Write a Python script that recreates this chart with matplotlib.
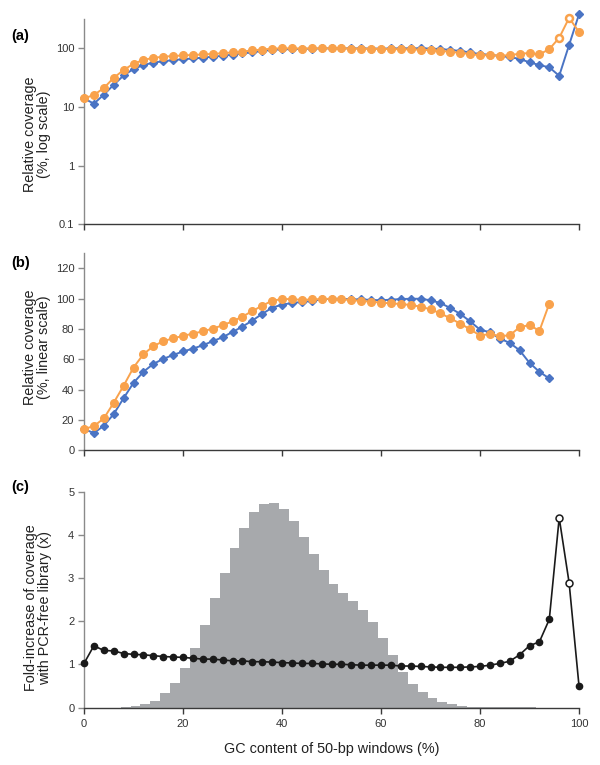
import matplotlib
matplotlib.use("Agg")
import matplotlib.pyplot as plt

# GC content of the 50-bp windows (%), one point every 2%
gc = list(range(0, 101, 2))

# relative coverage (%), standard PCR library (blue diamonds)
pcr = [14.0, 11.4, 16.2, 23.9, 34.4, 44.5, 51.8, 57.0, 60.3, 62.9, 65.2, 67.1, 69.3,
       72.0, 74.6, 78.1, 81.6, 85.6, 90.0, 94.1, 96.1, 97.2, 97.9, 98.5, 99.6, 100.0,
       100.0, 99.6, 99.6, 99.2, 99.0, 99.4, 99.8, 100.0, 100.0, 99.0, 97.2, 93.9, 90.0,
       85.1, 79.6, 77.9, 73.7, 70.9, 66.0, 57.7, 51.8, 47.4, 34.0, 114.0, 380.0]

# relative coverage (%), PCR-free library (orange circles)
pcr_free = [14.0, 16.0, 21.0, 31.4, 42.6, 54.6, 63.4, 68.7, 72.0, 73.9, 75.5, 77.0, 78.5,
            80.3, 82.5, 85.1, 88.2, 91.9, 95.4, 98.7, 99.8, 99.8, 99.2, 99.6, 99.8, 100.0,
            99.6, 99.2, 98.5, 98.1, 97.4, 97.0, 96.5, 95.9, 94.8, 93.0, 90.4, 87.1, 83.6,
            79.9, 75.7, 76.8, 75.3, 75.9, 81.2, 82.7, 78.8, 96.8, 151.0, 330.0, 190.0]

# points drawn hollow (few windows)
open_gc = [96, 98]

# fold increase of coverage with PCR-free library
fold = [1.02, 1.43, 1.32, 1.31, 1.25, 1.23, 1.22, 1.20, 1.18, 1.17, 1.16, 1.14, 1.12,
        1.12, 1.10, 1.08, 1.08, 1.06, 1.06, 1.05, 1.04, 1.03, 1.02, 1.02, 1.01, 1.00,
        1.00, 0.99, 0.98, 0.98, 0.98, 0.98, 0.96, 0.96, 0.95, 0.94, 0.93, 0.93, 0.93,
        0.94, 0.95, 0.98, 1.02, 1.07, 1.22, 1.43, 1.52, 2.04, 4.39, 2.89, 0.50]

# distribution of GC content of windows (grey histogram)
hist_gc = list(range(8, 91, 2))
hist_h = [0.005, 0.04, 0.08, 0.16, 0.33, 0.56, 0.91, 1.37, 1.92, 2.53, 3.12, 3.69, 4.16,
          4.52, 4.71, 4.74, 4.59, 4.31, 3.95, 3.55, 3.19, 2.87, 2.64, 2.46, 2.25, 1.98,
          1.62, 1.22, 0.83, 0.55, 0.35, 0.22, 0.13, 0.07, 0.03, 0.02, 0.01, 0.008,
          0.005, 0.004, 0.003, 0.002]

BLUE = "#4a74c4"
ORANGE = "#f9a24c"
GREY = "#a7a9ac"
W, H = 600, 765

plt.rcParams["font.family"] = ["Liberation Sans", "DejaVu Sans"]


def box(top, bottom, left=84, right=579):
    return [left / W, 1 - bottom / H, (right - left) / W, (bottom - top) / H]


def style(ax, labels):
    for s in ("top", "right"):
        ax.spines[s].set_visible(False)
    ax.spines["left"].set_color("#8a8a8a")
    ax.spines["bottom"].set_color("#3a3a3a")
    ax.spines["left"].set_linewidth(1.0)
    ax.spines["bottom"].set_linewidth(1.0)
    ax.set_xlim(0, 100)
    ax.set_xticks(range(0, 101, 20))
    ax.tick_params(axis="x", length=4, width=1, color="#3a3a3a", labelsize=8,
                   labelcolor="#333333", labelbottom=labels, pad=4)
    ax.tick_params(axis="y", length=4, width=1, color="#8a8a8a", labelsize=8,
                   labelcolor="#333333", pad=3)
    ax.tick_params(which="minor", length=0)


fig = plt.figure(figsize=(W / 100, H / 100), dpi=100)
ax_a = fig.add_axes(box(19, 224.3))
ax_b = fig.add_axes(box(253.3, 450.3))
ax_c = fig.add_axes(box(491.5, 707.5))

# (a) log scale
filled = [i for i, g in enumerate(gc) if g not in open_gc]
hollow = [i for i, g in enumerate(gc) if g in open_gc]
ax_a.plot(gc, pcr, color=BLUE, lw=1.4, marker="D", ms=3.8, mfc=BLUE, mec=BLUE, clip_on=False, zorder=3)
ax_a.plot(gc, pcr_free, color=ORANGE, lw=1.4, marker="o", ms=5.5, mfc=ORANGE, mec=ORANGE,
          markevery=filled, clip_on=False, zorder=4)
ax_a.plot([gc[i] for i in hollow], [pcr_free[i] for i in hollow], ls="none", marker="o", ms=5,
          mfc="white", mec=ORANGE, mew=1.8, clip_on=False, zorder=5)
ax_a.set_yscale("log")
ax_a.set_ylim(0.1, 316)
ax_a.set_yticks([0.1, 1, 10, 100])
ax_a.set_yticklabels(["0.1", "1", "10", "100"])
style(ax_a, False)

# (b) linear scale, up to 94% GC
nb = gc.index(94) + 1
ax_b.plot(gc[:nb], pcr[:nb], color=BLUE, lw=1.4, marker="D", ms=3.8, mfc=BLUE, mec=BLUE, clip_on=False, zorder=3)
ax_b.plot(gc[:nb], pcr_free[:nb], color=ORANGE, lw=1.4, marker="o", ms=5.5, mfc=ORANGE, mec=ORANGE,
          clip_on=False, zorder=4)
ax_b.set_ylim(0, 130)
ax_b.set_yticks(range(0, 121, 20))
style(ax_b, False)

# (c) fold increase + GC histogram
ax_c.bar([g - 0.6 for g in hist_gc], hist_h, width=2, align="edge", color=GREY, lw=0, zorder=1)
ax_c.plot(gc, fold, color="#1a1a1a", lw=1.2, marker="o", ms=4.5, mfc="#1a1a1a", mec="#1a1a1a",
          markevery=filled, clip_on=False, zorder=3)
ax_c.plot([gc[i] for i in hollow], [fold[i] for i in hollow], ls="none", marker="o", ms=5,
          mfc="white", mec="#1a1a1a", mew=1.1, clip_on=False, zorder=4)
ax_c.set_ylim(0, 5)
ax_c.set_yticks(range(0, 6))
style(ax_c, True)

ylab = dict(rotation=90, ha="center", va="center", fontsize=10.4, linespacing=0.95, color="#222222")
fig.text(37 / W, 1 - 134 / H, "Relative coverage\n(%, log scale)", **ylab)
fig.text(37 / W, 1 - 347 / H, "Relative coverage\n(%, linear scale)", **ylab)
fig.text(38 / W, 1 - 608 / H, "Fold-increase of coverage\nwith PCR-free library (x)", **ylab)
fig.text(331.5 / W, 1 - 749 / H, "GC content of 50-bp windows (%)", ha="center", va="center",
         fontsize=10.4, color="#222222")

for lab, y in (("(a)", 36), ("(b)", 263), ("(c)", 487)):
    fig.text(11 / W, 1 - y / H, lab, ha="left", va="center", fontsize=10.5, fontweight="bold")

fig.savefig("out.png", dpi=100)
